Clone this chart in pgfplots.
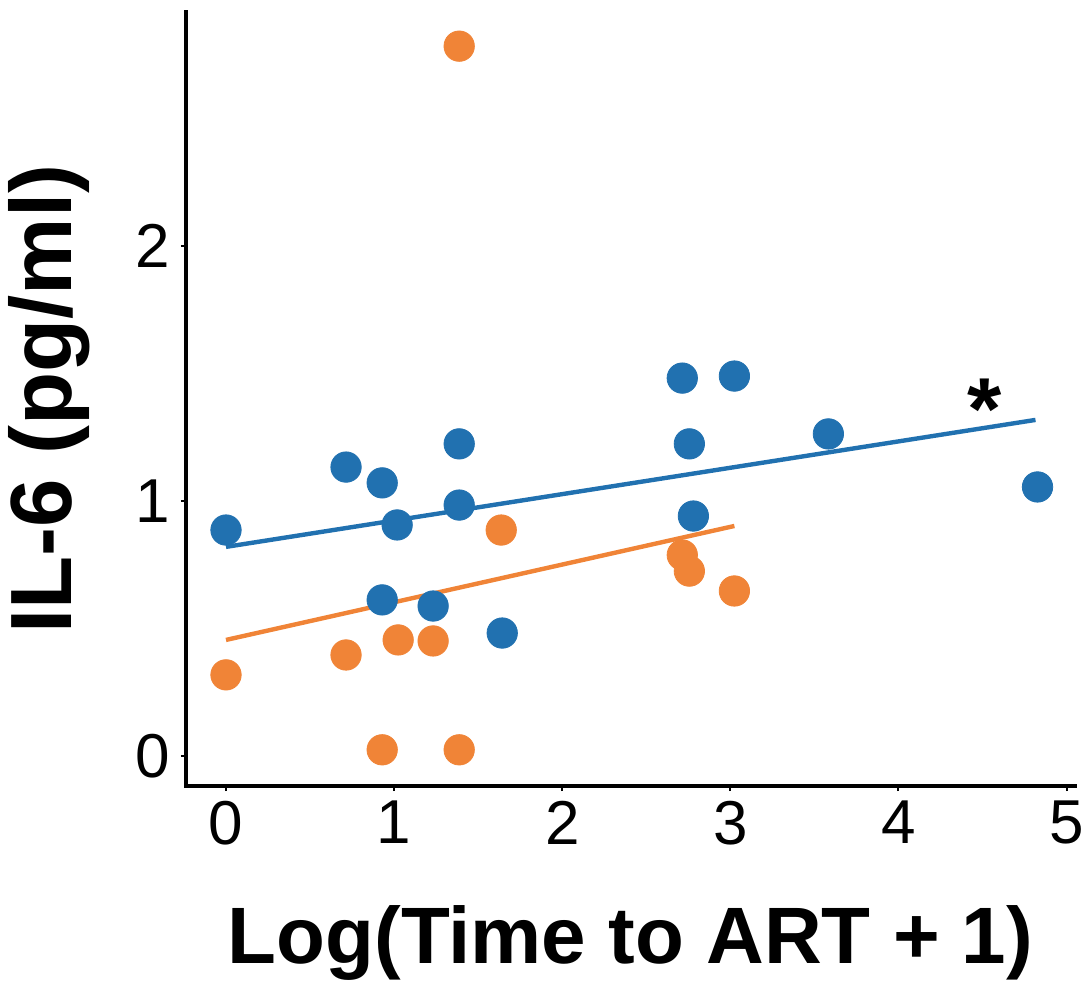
\documentclass[border=0pt]{standalone}
\usepackage{fontspec}
\setmainfont{Liberation Sans}
\usepackage{pgfplots}
\pgfplotsset{compat=1.18}

\definecolor{ptblue}{RGB}{33,113,176}
\definecolor{ptorange}{RGB}{240,132,55}

\begin{document}
\begin{tikzpicture}
\begin{axis}[
    scale only axis,
    width=444.5pt, height=387pt,
    xmin=-0.238, xmax=5.05,
    ymin=-0.118, ymax=2.918,
    axis lines*=left,
    axis line style={line width=2.2pt, line cap=rect},
    tick align=outside,
    major tick length=2.5pt,
    tick style={line width=1pt, black},
    xtick={0,1,2,3,4,5},
    ytick={0,1,2},
    /pgf/number format/assume math mode=true,
    tick label style={font=\fontsize{31}{34}\selectfont},
    xticklabel style={yshift=-1.5pt},
    yticklabel style={xshift=-2pt},
    xlabel={Log(Time to ART + 1)},
    ylabel={IL-6 (pg/ml)},
    every axis x label/.style={at={(axis description cs:0.5,0)}, yshift=-78.5pt,
        anchor=center, font=\fontsize{40}{44}\bfseries\selectfont},
    every axis y label/.style={at={(axis description cs:0,0.5)}, xshift=-68.5pt,
        rotate=90, anchor=center, font=\fontsize{43.5}{47}\bfseries\selectfont},
    clip=false,
]
% blue group
\addplot[only marks, mark=*, mark size=7.6pt, ptblue, mark options={draw=ptblue, fill=ptblue}] coordinates {
    (0,0.886) (0.714,1.133) (0.929,1.071) (1.018,0.906) (0.929,0.612)
    (1.387,1.224) (1.387,0.984) (1.232,0.588) (1.643,0.482)
    (2.714,1.482) (3.024,1.490) (2.756,1.224) (2.780,0.941)
    (3.583,1.263) (4.827,1.055)
};
% orange group
\addplot[only marks, mark=*, mark size=7.6pt, ptorange, mark options={draw=ptorange, fill=ptorange}] coordinates {
    (1.387,2.784) (0,0.318) (0.714,0.396) (1.024,0.455) (1.232,0.451)
    (0.929,0.024) (1.387,0.024) (1.637,0.886)
    (2.714,0.788) (2.756,0.725) (3.024,0.647)
};
% fitted lines
\addplot[ptblue, line width=2.2pt] coordinates {(0,0.820) (4.815,1.318)};
\addplot[ptorange, line width=2.2pt] coordinates {(0,0.455) (3.024,0.902)};
\node[font=\fontsize{44}{48}\bfseries\selectfont] at (axis cs:4.51,1.36) {*};
\coordinate (bl) at (rel axis cs:0,0);
\coordinate (tr) at (rel axis cs:1,1);
\end{axis}
\pgfresetboundingbox
\path[use as bounding box] (bl) ++(-93pt,-98pt) rectangle ([shift={(5.5pt,6pt)}]tr);
\end{tikzpicture}
\end{document}
